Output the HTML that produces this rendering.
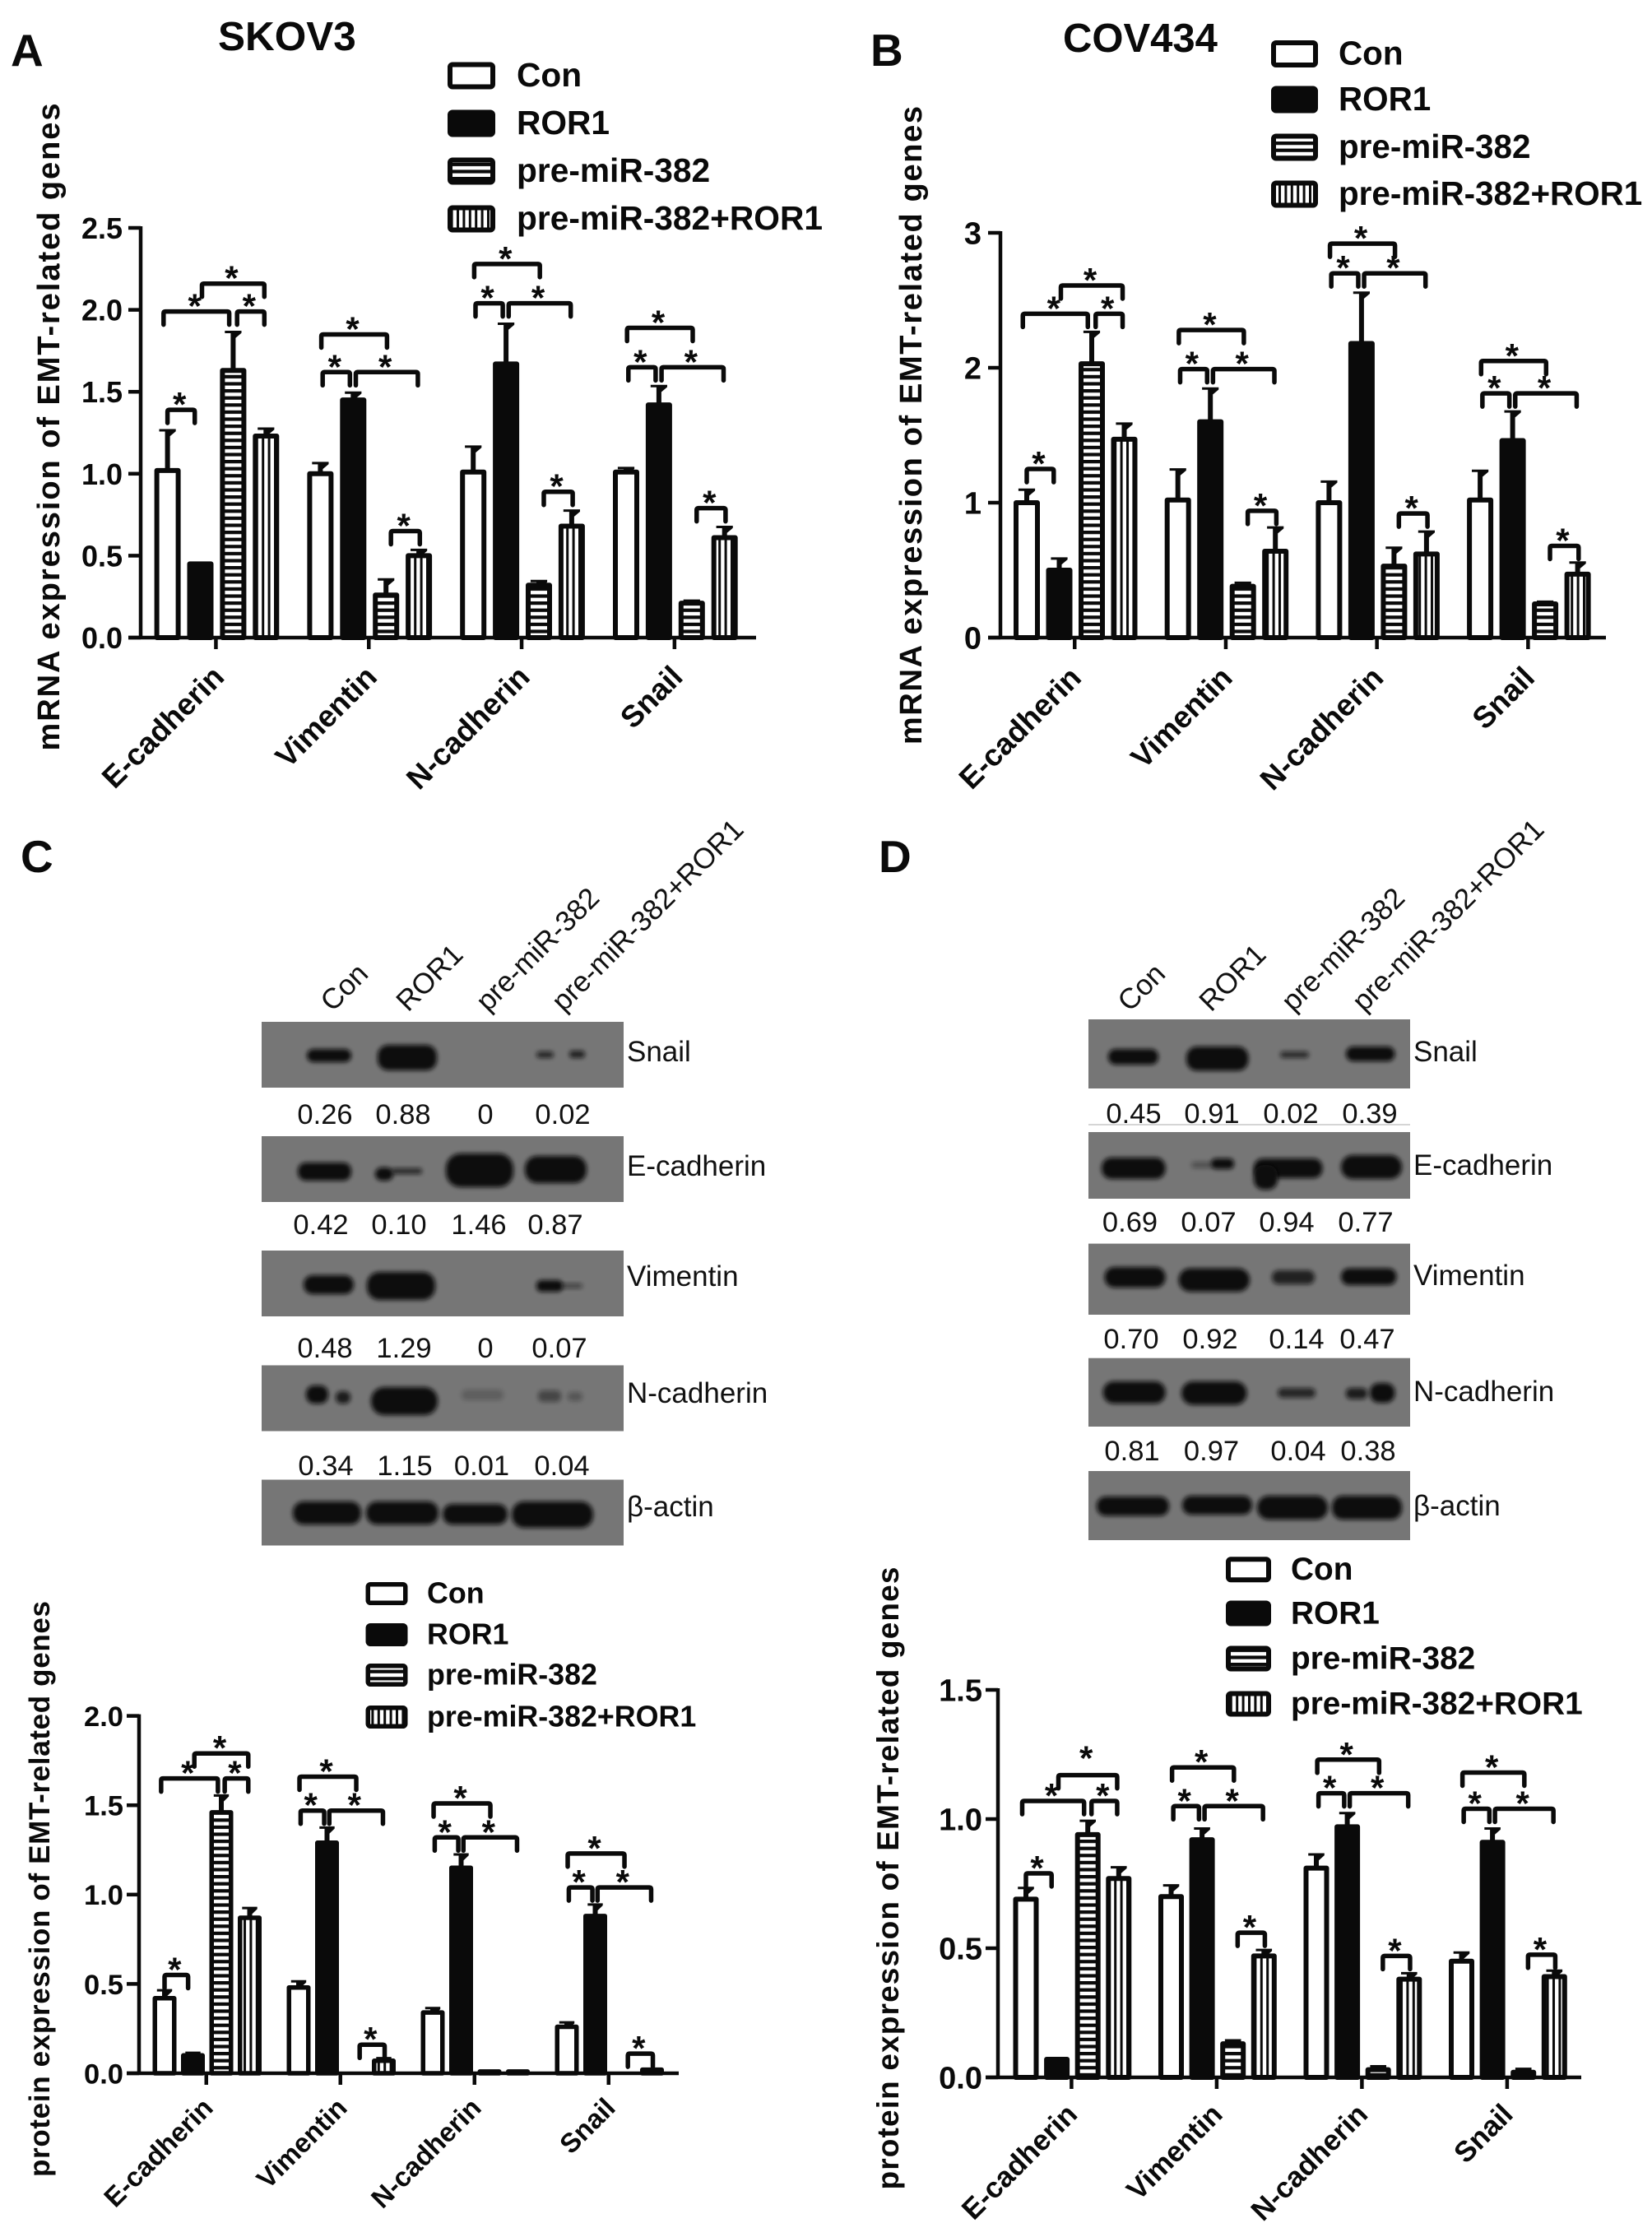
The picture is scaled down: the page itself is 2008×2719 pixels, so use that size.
<!DOCTYPE html>
<html lang="en">
<head>
<meta charset="utf-8">
<title>EMT-related gene expression in SKOV3 and COV434</title>
<style>
html,body{margin:0;padding:0;background:#fff;}
svg{display:block;}
text{font-family:"Liberation Sans",Arial,sans-serif;fill:#0a0a0a;}
.b{font-weight:bold;}
.num{font-size:34.5px;text-anchor:middle;fill:#111;}
.lab{font-size:35px;fill:#111;}
.col{font-size:35px;fill:#111;}
.band{fill:#0b0b0b;filter:url(#soft);}
.membrane{fill:#767676;}
</style>
</head>
<body>
<svg id="figure" xmlns="http://www.w3.org/2000/svg" width="2008" height="2719" viewBox="0 0 2008 2719">
<defs>
<filter id="soft" x="-30%" y="-60%" width="160%" height="220%"><feGaussianBlur stdDeviation="2.6"/></filter>
<pattern id="hatch-h" patternUnits="userSpaceOnUse" width="9" height="8.6"><rect width="9" height="8.6" fill="#fff"/><rect width="9" height="4.2" fill="#0a0a0a"/></pattern>
<pattern id="hatch-v" patternUnits="userSpaceOnUse" width="7.4" height="9"><rect width="7.4" height="9" fill="#fff"/><rect width="3" height="9" fill="#0a0a0a"/></pattern>
</defs>
<rect width="2008" height="2719" fill="#fff"/>

<text class="b" x="13" y="80" font-size="55">A</text>
<text class="b" x="1058" y="80" font-size="55">B</text>
<text class="b" x="25" y="1060" font-size="55">C</text>
<text class="b" x="1068" y="1060" font-size="55">D</text>
<text class="b" x="265" y="61" font-size="49.5">SKOV3</text>
<text class="b" x="1292" y="63" font-size="49">COV434</text>

<g id="blot-c">
<text class="col" transform="translate(404 1231) rotate(-45)">Con</text>
<text class="col" transform="translate(496 1231) rotate(-45)">ROR1</text>
<text class="col" transform="translate(593 1231) rotate(-45)">pre-miR-382</text>
<text class="col" transform="translate(685 1231) rotate(-45)">pre-miR-382+ROR1</text>

<rect class="membrane" x="318" y="1242" width="440" height="80"/>
<rect class="band" x="373" y="1275" width="54" height="16" rx="8"/>
<rect class="band" x="459" y="1270" width="72" height="31" rx="13"/>
<rect class="band" x="652" y="1278" width="21" height="8" rx="4" opacity=".75"/>
<rect class="band" x="692" y="1277" width="19" height="9" rx="4" opacity=".8"/>
<text class="lab" x="762" y="1290">Snail</text>
<g><text class="num" x="395" y="1366">0.26</text><text class="num" x="490" y="1366">0.88</text><text class="num" x="590" y="1366">0</text><text class="num" x="684" y="1366">0.02</text></g>

<rect class="membrane" x="318" y="1381" width="440" height="80"/>
<rect class="band" x="362" y="1413" width="65" height="22" rx="10"/>
<rect class="band" x="456" y="1419" width="22" height="16" rx="8"/>
<rect class="band" x="476" y="1420" width="37" height="7" rx="3" opacity=".75"/>
<rect class="band" x="542" y="1402" width="82" height="41" rx="18"/>
<rect class="band" x="638" y="1405" width="75" height="33" rx="15"/>
<text class="lab" x="762" y="1429">E-cadherin</text>
<g><text class="num" x="390" y="1500">0.42</text><text class="num" x="485" y="1500">0.10</text><text class="num" x="582" y="1500">1.46</text><text class="num" x="675" y="1500">0.87</text></g>

<rect class="membrane" x="318" y="1520" width="440" height="80"/>
<rect class="band" x="369" y="1550" width="61" height="23" rx="11"/>
<rect class="band" x="446" y="1546" width="83" height="34" rx="15"/>
<rect class="band" x="652" y="1556" width="32" height="14" rx="6"/>
<rect class="band" x="680" y="1560" width="28" height="6" rx="3" opacity=".5"/>
<text class="lab" x="762" y="1563">Vimentin</text>
<g><text class="num" x="395" y="1650">0.48</text><text class="num" x="491" y="1650">1.29</text><text class="num" x="590" y="1650">0</text><text class="num" x="680" y="1650">0.07</text></g>

<rect class="membrane" x="318" y="1659.5" width="440" height="80"/>
<rect class="band" x="372" y="1684" width="27" height="22" rx="10"/>
<rect class="band" x="408" y="1691" width="18" height="15" rx="7" opacity=".85"/>
<rect class="band" x="451" y="1686" width="81" height="34" rx="16"/>
<rect class="band" x="561" y="1689" width="51" height="13" rx="6" opacity=".22"/>
<rect class="band" x="654" y="1690" width="28" height="14" rx="6" opacity=".45"/>
<rect class="band" x="690" y="1692" width="18" height="11" rx="5" opacity=".3"/>
<text class="lab" x="762" y="1705">N-cadherin</text>
<g><text class="num" x="396" y="1793">0.34</text><text class="num" x="492" y="1793">1.15</text><text class="num" x="585.5" y="1793">0.01</text><text class="num" x="683" y="1793">0.04</text></g>

<rect class="membrane" x="318" y="1798.5" width="440" height="80"/>
<rect class="band" x="356" y="1825" width="83" height="28" rx="13"/>
<rect class="band" x="445" y="1825" width="88" height="28" rx="13"/>
<rect class="band" x="538" y="1828" width="79" height="25" rx="12"/>
<rect class="band" x="622" y="1825" width="99" height="32" rx="15"/>
<text class="lab" x="762" y="1843">β-actin</text>
</g>

<g id="blot-d">
<text class="col" transform="translate(1373 1231) rotate(-45)">Con</text>
<text class="col" transform="translate(1472 1231) rotate(-45)">ROR1</text>
<text class="col" transform="translate(1572 1231) rotate(-45)">pre-miR-382</text>
<text class="col" transform="translate(1658 1231) rotate(-45)">pre-miR-382+ROR1</text>

<rect class="membrane" x="1323" y="1239" width="391" height="84"/>
<rect class="band" x="1347" y="1275" width="61" height="19" rx="9"/>
<rect class="band" x="1442" y="1272" width="75.5" height="29.5" rx="13"/>
<rect class="band" x="1556" y="1278" width="35" height="8" rx="4" opacity=".7"/>
<rect class="band" x="1636" y="1272" width="59.5" height="18" rx="9"/>
<text class="lab" x="1718" y="1290">Snail</text>
<g><text class="num" x="1378" y="1365">0.45</text><text class="num" x="1473" y="1365">0.91</text><text class="num" x="1569" y="1365">0.02</text><text class="num" x="1665" y="1365">0.39</text></g>
<rect x="1323" y="1366" width="391" height="2" fill="#d5d5d5"/>

<rect class="membrane" x="1323" y="1376" width="391" height="81"/>
<rect class="band" x="1339" y="1407" width="77.6" height="26" rx="12"/>
<rect class="band" x="1472" y="1408" width="28" height="13" rx="6"/>
<rect class="band" x="1448" y="1412" width="26" height="8" rx="4" opacity=".35"/>
<rect class="band" x="1524" y="1408" width="83.5" height="24" rx="11"/>
<rect class="band" x="1524" y="1416" width="29" height="30" rx="12"/>
<rect class="band" x="1630" y="1404" width="74" height="29" rx="14"/>
<text class="lab" x="1718" y="1428">E-cadherin</text>
<g><text class="num" x="1373.5" y="1497">0.69</text><text class="num" x="1469" y="1497">0.07</text><text class="num" x="1564" y="1497">0.94</text><text class="num" x="1660" y="1497">0.77</text></g>

<rect class="membrane" x="1323" y="1511.6" width="391" height="86.4"/>
<rect class="band" x="1342.6" y="1540" width="74" height="25" rx="12"/>
<rect class="band" x="1432.6" y="1541.5" width="86.4" height="28.5" rx="14"/>
<rect class="band" x="1546" y="1544" width="52" height="17" rx="8" opacity=".8"/>
<rect class="band" x="1630" y="1541.5" width="67.5" height="20.5" rx="10"/>
<text class="lab" x="1718" y="1562">Vimentin</text>
<g><text class="num" x="1375" y="1639">0.70</text><text class="num" x="1471" y="1639">0.92</text><text class="num" x="1576" y="1639">0.14</text><text class="num" x="1662" y="1639">0.47</text></g>

<rect class="membrane" x="1323" y="1650.7" width="391" height="83.3"/>
<rect class="band" x="1340.7" y="1679" width="76" height="27" rx="13"/>
<rect class="band" x="1436" y="1679" width="79.5" height="28.6" rx="14"/>
<rect class="band" x="1553" y="1687" width="46" height="12" rx="6" opacity=".75"/>
<rect class="band" x="1636" y="1687" width="26" height="13.5" rx="6" opacity=".85"/>
<rect class="band" x="1665" y="1681" width="30.5" height="24" rx="11"/>
<text class="lab" x="1718" y="1703">N-cadherin</text>
<g><text class="num" x="1376" y="1775">0.81</text><text class="num" x="1472.5" y="1775">0.97</text><text class="num" x="1578" y="1775">0.04</text><text class="num" x="1663" y="1775">0.38</text></g>

<rect class="membrane" x="1323" y="1788" width="391" height="84"/>
<rect class="band" x="1333" y="1819" width="88" height="23.5" rx="11"/>
<rect class="band" x="1437" y="1818" width="85" height="23" rx="11"/>
<rect class="band" x="1528" y="1818" width="86" height="29" rx="14"/>
<rect class="band" x="1619" y="1818" width="85" height="29" rx="13"/>
<text class="lab" x="1718" y="1842">β-actin</text>
</g>

<g id="charts"></g>
</svg>

<script>
// ---- shared labels ----
const categories = ['E-cadherin', 'Vimentin', 'N-cadherin', 'Snail'];
const seriesLabels = ['Con', 'ROR1', 'pre-miR-382', 'pre-miR-382+ROR1'];

// ---- panel A (SKOV3, mRNA) ----
const aTicks = ['0.0', '0.5', '1.0', '1.5', '2.0', '2.5'];
const aCon = [1.02, 1.00, 1.01, 1.01];
const aRor1 = [0.45, 1.45, 1.67, 1.42];
const aPre = [1.63, 0.26, 0.32, 0.21];
const aCombo = [1.23, 0.50, 0.68, 0.61];
const aConTop = [1.26, 1.06, 1.16, 1.03];
const aRor1Top = [0.45, 1.49, 1.91, 1.53];
const aPreTop = [1.86, 0.35, 0.34, 0.22];
const aComboTop = [1.27, 0.53, 0.77, 0.67];
const aSigLevels = [[1.39, 1.99, 1.99, 2.16], [0.65, 1.62, 1.62, 1.85], [0.89, 2.04, 2.04, 2.28], [0.79, 1.65, 1.65, 1.89]];

// ---- panel B (COV434, mRNA) ----
const bTicks = ['0', '1', '2', '3'];
const bCon = [1.00, 1.02, 1.00, 1.02];
const bRor1 = [0.50, 1.60, 2.18, 1.46];
const bPre = [2.03, 0.38, 0.53, 0.25];
const bCombo = [1.47, 0.64, 0.62, 0.47];
const bConTop = [1.09, 1.24, 1.15, 1.23];
const bRor1Top = [0.58, 1.84, 2.55, 1.67];
const bPreTop = [2.26, 0.40, 0.66, 0.26];
const bComboTop = [1.58, 0.81, 0.78, 0.55];
const bSigLevels = [[1.25, 2.40, 2.40, 2.61], [0.94, 1.99, 1.99, 2.28], [0.92, 2.70, 2.70, 2.92], [0.68, 1.81, 1.81, 2.05]];

// ---- panel C (SKOV3, protein) ----
const cTicks = ['0.0', '0.5', '1.0', '1.5', '2.0'];
const cCon = [0.42, 0.48, 0.34, 0.26];
const cRor1 = [0.10, 1.29, 1.15, 0.88];
const cPre = [1.46, 0.00, 0.01, 0.00];
const cCombo = [0.87, 0.07, 0.01, 0.02];
const cConTop = [0.46, 0.51, 0.36, 0.28];
const cRor1Top = [0.11, 1.37, 1.22, 0.94];
const cPreTop = [1.55, 0.00, 0.01, 0.00];
const cComboTop = [0.92, 0.08, 0.01, 0.02];
const cSigLevels = [[0.55, 1.65, 1.65, 1.79], [0.16, 1.47, 1.47, 1.66], [null, 1.32, 1.32, 1.51], [0.11, 1.04, 1.04, 1.23]];

// ---- panel D (COV434, protein) ----
const dTicks = ['0.0', '0.5', '1.0', '1.5'];
const dCon = [0.69, 0.70, 0.81, 0.45];
const dRor1 = [0.07, 0.92, 0.97, 0.91];
const dPre = [0.94, 0.13, 0.03, 0.02];
const dCombo = [0.77, 0.47, 0.38, 0.39];
const dConTop = [0.73, 0.74, 0.86, 0.48];
const dRor1Top = [0.07, 0.96, 1.02, 0.96];
const dPreTop = [0.99, 0.14, 0.04, 0.03];
const dComboTop = [0.81, 0.49, 0.40, 0.41];
const dSigLevels = [[0.79, 1.07, 1.07, 1.17], [0.56, 1.05, 1.05, 1.20], [0.47, 1.10, 1.10, 1.23], [0.475, 1.04, 1.04, 1.18]];

// Which bars each significance bracket joins (bar-slot units, first group, then others)
const sigSpanFirst = [[0, 0.83], [-0.12, 1.88], [2.12, 2.95], [1.05, 2.95]];
const sigSpanOther = [[2.15, 3.03], [0.07, 0.9], [1.08, 2.97], [0.03, 2.03]];

const panels = [
  { id: 'a', title: 'mRNA expression of EMT-related genes', ticks: aTicks, yMax: 2.5,
    series: [aCon, aRor1, aPre, aCombo], tops: [aConTop, aRor1Top, aPreTop, aComboTop], sig: aSigLevels,
    x0: 203.6, groupStep: 185.8, barStep: 39.9, barW: 32, axisX: 171, y0: 775, yTop: 277, xEnd: 919,
    tickFont: 36, tickRight: 149, catFont: 37, catDx: 12, catDy: 50, strokeW: 6, firstTopStarLift: 0,
    titleX: 72, titleMid: 519, titleLen: 787, titleFont: 38,
    legX: 544, legW: 58, legH: 33, legRows: [92, 150, 208, 266], legTextX: 628, legFont: 40.7 },
  { id: 'b', title: 'mRNA expression of EMT-related genes', ticks: bTicks, yMax: 3,
    series: [bCon, bRor1, bPre, bCombo], tops: [bConTop, bRor1Top, bPreTop, bComboTop], sig: bSigLevels,
    x0: 1248, groupStep: 183.7, barStep: 39.5, barW: 32, axisX: 1216, y0: 775, yTop: 283, xEnd: 1952,
    tickFont: 38, tickRight: 1193, catFont: 37, catDx: 10, catDy: 51, strokeW: 6, firstTopStarLift: 0,
    titleX: 1120, titleMid: 517, titleLen: 776, titleFont: 38,
    legX: 1545, legW: 57, legH: 33, legRows: [65.5, 121, 179, 236], legTextX: 1627, legFont: 40.4 },
  { id: 'c', title: 'protein expression of EMT-related genes', ticks: cTicks, yMax: 2,
    series: [cCon, cRor1, cPre, cCombo], tops: [cConTop, cRor1Top, cPreTop, cComboTop], sig: cSigLevels,
    x0: 200, groupStep: 163, barStep: 34.5, barW: 29, axisX: 169, y0: 2520, yTop: 2085.6, xEnd: 825,
    tickFont: 34.5, tickRight: 150, catFont: 33, catDx: 10, catDy: 44, strokeW: 5.5, firstTopStarLift: 0,
    titleX: 60, titleMid: 2296, titleLen: 700, titleFont: 35,
    legX: 444.5, legW: 51, legH: 28, legRows: [1937, 1987, 2036, 2087], legTextX: 519, legFont: 35.8 },
  { id: 'd', title: 'protein expression of EMT-related genes', ticks: dTicks, yMax: 1.5,
    series: [dCon, dRor1, dPre, dCombo], tops: [dConTop, dRor1Top, dPreTop, dComboTop], sig: dSigLevels,
    x0: 1247, groupStep: 176.5, barStep: 37.6, barW: 31, axisX: 1213, y0: 2525, yTop: 2054, xEnd: 1922,
    tickFont: 38, tickRight: 1194, catFont: 35, catDx: 9, catDy: 47, strokeW: 6, firstTopStarLift: 14,
    titleX: 1092, titleMid: 2283, titleLen: 757, titleFont: 37,
    legX: 1490, legW: 55, legH: 31, legRows: [1907.7, 1961, 2016, 2071], legTextX: 1569, legFont: 38.8 }
];

const NS = 'http://www.w3.org/2000/svg';
const seriesFill = ['#fff', '#0a0a0a', 'url(#hatch-h)', 'url(#hatch-v)'];
const seriesKey = ['con', 'ror1', 'pre-mir-382', 'combo'];
const catKey = ['e-cadherin', 'vimentin', 'n-cadherin', 'snail'];

function make(tag, attrs, parent) {
  const el = document.createElementNS(NS, tag);
  for (const k in attrs) el.setAttribute(k, attrs[k]);
  parent.appendChild(el);
  return el;
}
function xBar(p, g, b) { return p.x0 + g * p.groupStep + b * p.barStep; }
function yVal(p, v) { return p.y0 + (p.yTop - p.y0) * v / p.yMax; }

function drawPanel(p, root) {
  const chart = make('g', {}, root);
  
  

  // bars and error bars
  p.series.forEach(function (vals, s) {
    vals.forEach(function (v, g) {
      if (v <= 0) return;
      const cx = xBar(p, g, s);
      const top = yVal(p, v);
      const errTop = yVal(p, p.tops[s][g]);
      if (errTop < top - 0.5) {
        const capW = p.barW * 0.3;
        const err = make('path', {
          d: 'M' + (cx - 2.5) + ' ' + top + 'V' + errTop + 'H' + (cx - capW) + 'V' + (errTop - 2) + 'H' + (cx + capW) + 'V' + errTop + 'L' + (cx + 2.5) + ' ' + (errTop + 6) + 'V' + top + 'Z',
          fill: '#0a0a0a', stroke: '#0a0a0a', 'stroke-width': 1
        }, chart);
        
        
      }
      const sw = p.strokeW;
      const h = Math.max(p.y0 - top, 0);
      const bar = make('rect', {
        x: cx - p.barW / 2 + sw / 2, y: top, width: p.barW - sw, height: h,
        fill: seriesFill[s], stroke: '#0a0a0a', 'stroke-width': sw, 'stroke-linejoin': 'round'
      }, chart);
      
      
    });
  });

  // axes
  const yAxis = make('line', { x1: p.axisX, x2: p.axisX, y1: p.yTop - 2, y2: p.y0 + 2, stroke: '#0a0a0a', 'stroke-width': 4.5 }, chart);
  
  
  const xAxis = make('line', { x1: p.axisX - 15, x2: p.xEnd, y1: p.y0, y2: p.y0, stroke: '#0a0a0a', 'stroke-width': 4.5 }, chart);
  
  

  p.ticks.forEach(function (label) {
    const yy = yVal(p, parseFloat(label));
    const tick = make('line', { x1: p.axisX - 15, x2: p.axisX, y1: yy, y2: yy, stroke: '#0a0a0a', 'stroke-width': 4.5 }, chart);
    
    
    const t = make('text', { x: p.tickRight, y: yy + p.tickFont * 0.36, 'text-anchor': 'end', 'font-size': p.tickFont, 'font-weight': 'bold' }, chart);
    t.textContent = label;
    
    
  });

  categories.forEach(function (cat, g) {
    const tx = xBar(p, g, 1.5) - 1;
    const tick = make('line', { x1: tx, x2: tx, y1: p.y0, y2: p.y0 + 14, stroke: '#0a0a0a', 'stroke-width': 4.5 }, chart);
    
    
    const t = make('text', {
      transform: 'translate(' + (tx + p.catDx) + ' ' + (p.y0 + p.catDy) + ') rotate(-45)',
      'text-anchor': 'end', 'font-size': p.catFont, 'font-weight': 'bold'
    }, chart);
    t.textContent = cat;
    
    
  });

  // y axis title
  const title = make('text', {
    transform: 'translate(' + p.titleX + ' ' + p.titleMid + ') rotate(-90)',
    'text-anchor': 'middle', 'font-size': p.titleFont, 'font-weight': 'bold',
    textLength: p.titleLen, lengthAdjust: 'spacing'
  }, chart);
  title.textContent = p.title;
  
  

  // significance brackets
  p.sig.forEach(function (levels, g) {
    const spans = g === 0 ? sigSpanFirst : sigSpanOther;
    levels.forEach(function (lv, i) {
      if (lv === null) return;
      const a = xBar(p, g, spans[i][0]);
      const b = xBar(p, g, spans[i][1]);
      const yy = yVal(p, lv);
      const br = make('path', {
        d: 'M' + a + ' ' + (yy + 16) + 'V' + (yy + 2) + 'Q' + a + ' ' + yy + ' ' + (a + 2) + ' ' + yy + 'H' + (b - 2) + 'Q' + b + ' ' + yy + ' ' + b + ' ' + (yy + 2) + 'V' + (yy + 16),
        fill: 'none', stroke: '#0a0a0a', 'stroke-width': 5.5, 'stroke-linecap': 'round'
      }, chart);
      
      
      const lift = (g === 0 && i === 3) ? p.firstTopStarLift : 0;
      const star = make('text', { x: (a + b) / 2 - 2, y: yy + 8 - lift, 'text-anchor': 'middle', 'font-size': 42, 'font-weight': 'bold' }, chart);
      star.textContent = '*';
      
      
    });
  });

  // legend
  seriesLabels.forEach(function (label, s) {
    const rowY = p.legRows[s];
    const entry = make('g', {}, chart);
    
    
    const sw = p.strokeW;
    const box = make('rect', {
      x: p.legX + sw / 2, y: rowY - p.legH / 2 + sw / 2, width: p.legW - sw, height: p.legH - sw, rx: 3,
      fill: seriesFill[s], stroke: '#0a0a0a', 'stroke-width': sw
    }, entry);
    
    
    const t = make('text', { x: p.legTextX, y: rowY + p.legFont * 0.36 - 1.5, 'font-size': p.legFont, 'font-weight': 'bold' }, entry);
    t.textContent = label;
    
    
  });
}

const chartsRoot = document.getElementById('charts');
panels.forEach(function (p) { drawPanel(p, chartsRoot); });
</script>
</body>
</html>
